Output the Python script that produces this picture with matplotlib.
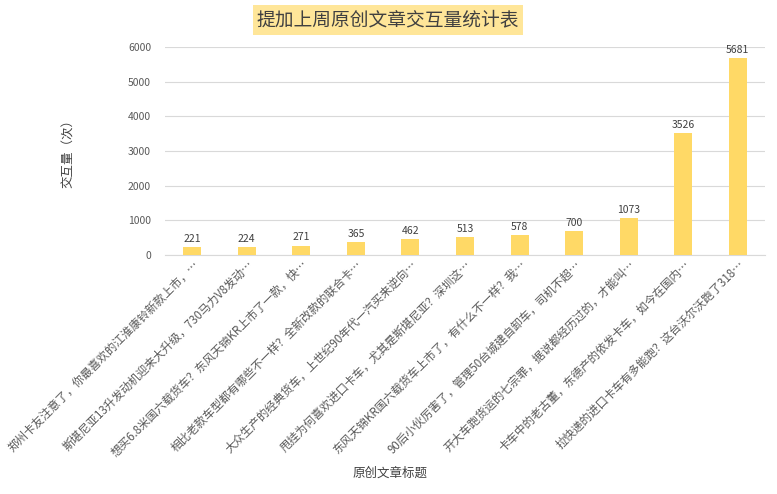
import matplotlib
matplotlib.use("Agg")
import matplotlib.pyplot as plt

plt.rcParams['font.family'] = ['Noto Sans CJK SC', 'DejaVu Sans']

titles = [
    "郑州卡友注意了，你最喜欢的江淮康铃新款上市，…",
    "斯堪尼亚13升发动机迎来大升级，730马力V8发动…",
    "想买6.8米国六载货车？东风天锦KR上市了一款，快…",
    "相比老款车型都有哪些不一样？全新改款的联合卡…",
    "大众生产的经典货车，上世纪90年代一汽买来逆向…",
    "甩挂为何喜欢进口卡车，尤其是斯堪尼亚？深圳这…",
    "东风天锦KR国六载货车上市了，有什么不一样？我…",
    "90后小伙厉害了，管理50台城建自卸车，司机不超…",
    "开大车跑货运的七宗罪，据说都经历过的，才能叫…",
    "卡车中的老古董，东德产的依发卡车，如今在国内…",
    "拉快递的进口卡车有多能跑？这台沃尔沃跑了318…",
]
values = [221, 224, 271, 365, 462, 513, 578, 700, 1073, 3526, 5681]
yticks = [0, 1000, 2000, 3000, 4000, 5000, 6000]

grey = '#595959'
fig = plt.figure(figsize=(7.77, 4.94), dpi=100)
ax = fig.add_axes([165/777, 1-255/494, 600/777, 208/494])
x = range(len(values))
ax.bar(x, values, width=0.33, color='#FFD966', zorder=3)
for i, v in zip(x, values):
    ax.text(i, v + 90, str(v), ha='center', va='bottom', fontsize=7.5, color='#404040')
ax.set_xlim(-0.5, len(values) - 0.5)
ax.set_ylim(0, 6000)
ax.set_yticks(yticks)
ax.set_yticklabels([str(t) for t in yticks], fontsize=7.5, color=grey)
ax.set_xticks(list(x))
ax.set_xticklabels(titles, rotation=45, ha='right', rotation_mode='anchor',
                   fontsize=8.3, color=grey)
ax.tick_params(axis='x', length=0, pad=2)
ax.tick_params(axis='y', length=0, pad=10)
ax.grid(axis='y', color='#D9D9D9', linewidth=0.8, zorder=0)
for s in ['top', 'right', 'left']:
    ax.spines[s].set_visible(False)
ax.spines['bottom'].set_color('#D9D9D9')

fig.text(68/777, 1-150/494, "交互量（次）", rotation=90, ha='center', va='center',
         fontsize=9, color='#404040')
fig.text(390/777, 1-473/494, "原创文章标题", ha='center', va='center',
         fontsize=9, color='#404040')
fig.text(388/777, 1-20/494, "提加上周原创文章交互量统计表", ha='center', va='center',
         fontsize=13.5, color='#404040',
         bbox=dict(facecolor='#FFE699', edgecolor='none', pad=3))
fig.savefig('out.png', dpi=100)
